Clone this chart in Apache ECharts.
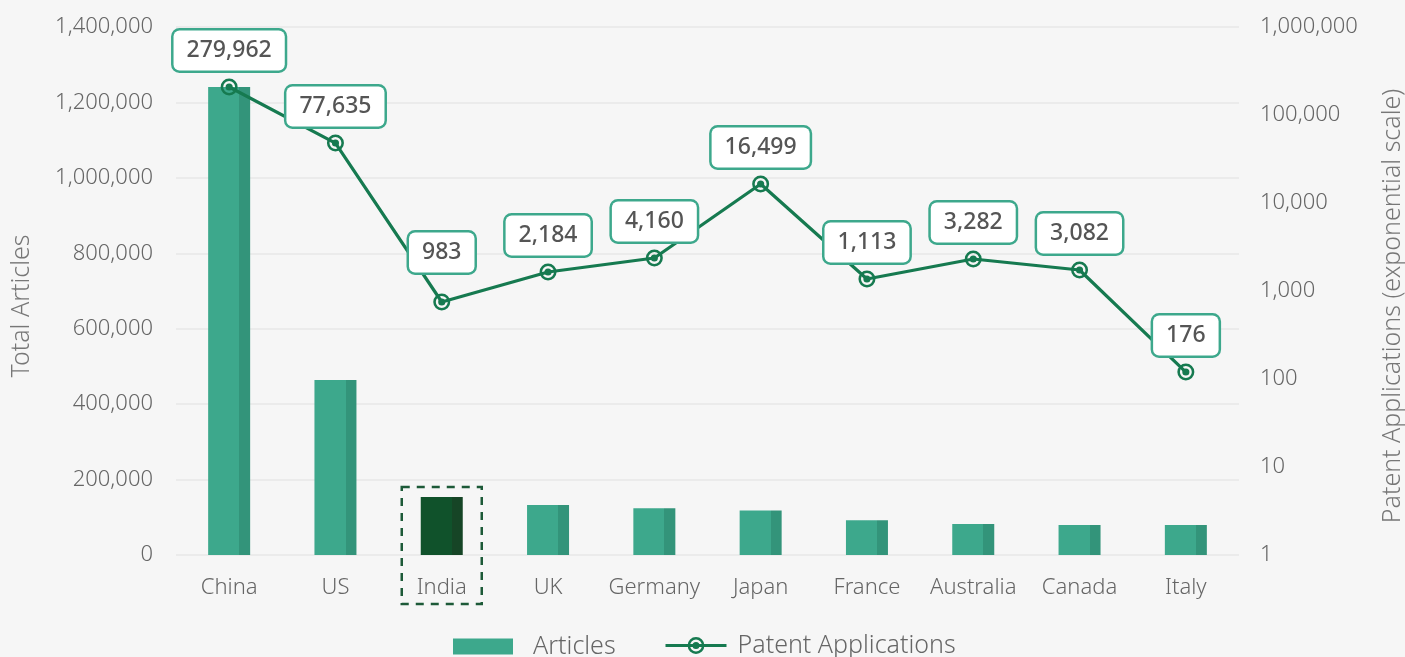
<!DOCTYPE html>
<html>
<head>
<meta charset="utf-8">
<script src="https://cdn.jsdelivr.net/npm/echarts@6/dist/echarts.min.js"></script>
<style>
    html, body { margin: 0; padding: 0; background: #f6f6f6; }
    #chart { width: 1405px; height: 657px; }
</style>
</head>
<body>
<div id="chart"></div>
<script>
    // data
    const countries = ['China', 'US', 'India', 'UK', 'Germany', 'Japan', 'France', 'Australia', 'Canada', 'Italy'];
    const articles = [1241000, 464000, 153800, 132600, 124000, 118000, 92300, 82000, 79600, 79600];
    // where the points sit on the log axis
    const patents = [208000, 48000, 750, 1644, 2371, 16440, 1369, 2310, 1733, 120];
    // the texts written in the boxes
    const patentLabels = ['279,962', '77,635', '983', '2,184', '4,160', '16,499', '1,113', '3,282', '3,082', '176'];
    const leftTicks = [0, 200000, 400000, 600000, 800000, 1000000, 1200000, 1400000];
    const rightTicks = [1, 10, 100, 1000, 10000, 100000, 1000000];
    const highlight = 'India';

    const fmt = v => Number(v).toLocaleString('en-US');
    const ringDot = 'path://M0 -10A10 10 0 1 1 0 10A10 10 0 1 1 0 -10ZM0 -7A7 7 0 1 0 0 7A7 7 0 1 0 0 -7ZM0 -4.2A4.2 4.2 0 1 1 0 4.2A4.2 4.2 0 1 1 0 -4.2Z';

    function barFill(main, side) {
        return new echarts.graphic.LinearGradient(0, 0, 1, 0, [
            {offset: 0, color: main}, {offset: 0.74, color: main},
            {offset: 0.74, color: side}, {offset: 1, color: side}
        ]);
    }

    const chart = echarts.init(document.getElementById('chart'));
    const font = 'Noto Sans';
    const legendText = {fontSize: 25, color: '#666', fontWeight: 300, fontFamily: font};

    chart.setOption({
        backgroundColor: '#f6f6f6',
        textStyle: {fontFamily: font},
        grid: {left: 176, right: 166, top: 27, bottom: 102, outerBoundsMode: 'none'},
        legend: [
            {
                left: 448,
                top: 629,
                itemWidth: 60,
                itemHeight: 16,
                textStyle: Object.assign({padding: [0, 0, 0, 15]}, legendText),
                data: [{name: 'Articles', icon: 'rect', itemStyle: {color: '#3da88c'}}]
            },
            {
                left: 659,
                top: 628,
                itemWidth: 61,
                itemHeight: 21,
                lineStyle: {width: 3},
                textStyle: Object.assign({padding: [0, 0, 0, 6]}, legendText),
                data: [{name: 'Patent Applications'}]
            }
        ],
        xAxis: {
            type: 'category',
            data: countries,
            axisLine: {show: false},
            axisTick: {show: false},
            axisLabel: {color: '#666', fontSize: 22, margin: 22, fontWeight: 300, interval: 0}
        },
        yAxis: [
            {
                type: 'value',
                min: leftTicks[0],
                max: leftTicks[leftTicks.length - 1],
                interval: leftTicks[1] - leftTicks[0],
                name: 'Total Articles',
                nameLocation: 'middle',
                nameRotate: 90,
                nameGap: 142,
                nameTextStyle: {color: '#777', fontSize: 25, fontWeight: 300, padding: [0, 30, 0, 0]},
                axisLabel: {color: '#666', fontSize: 22, margin: 23, fontWeight: 300, formatter: fmt},
                splitLine: {lineStyle: {color: '#ebebeb', width: 2}}
            },
            {
                type: 'log',
                logBase: 10,
                min: rightTicks[0],
                max: rightTicks[rightTicks.length - 1],
                name: 'Patent Applications (exponential scale)',
                nameLocation: 'middle',
                nameRotate: 90,
                nameGap: 141,
                nameTextStyle: {color: '#777', fontSize: 25, fontWeight: 300, padding: [0, 30, 0, 0]},
                axisLabel: {color: '#666', fontSize: 22, margin: 21, fontWeight: 300, formatter: fmt},
                splitLine: {show: false},
                axisLine: {show: false},
                axisTick: {show: false}
            }
        ],
        series: [
            {
                name: 'Articles',
                type: 'bar',
                barWidth: 42,
                data: articles.map((v, i) => ({
                    value: v,
                    itemStyle: {
                        color: countries[i] === highlight
                            ? barFill('#10522b', '#164526')
                            : barFill('#3da88c', '#33947a')
                    }
                }))
            },
            {
                name: 'Patent Applications',
                type: 'line',
                yAxisIndex: 1,
                symbol: ringDot,
                symbolSize: 17,
                itemStyle: {color: '#167a50'},
                lineStyle: {color: '#167a50', width: 3.2},
                z: 3,
                data: patents.map((v, i) => ({
                    value: v,
                    label: countries[i] === highlight ? {offset: [0, -13]} : undefined
                })),
                label: {
                    show: true,
                    position: 'top',
                    distance: 8,
                    formatter: p => patentLabels[p.dataIndex],
                    color: '#555',
                    fontSize: 23,
                    fontWeight: 500,
                    lineHeight: 26,
                    backgroundColor: '#fff',
                    borderColor: '#3da88c',
                    borderWidth: 2.5,
                    borderRadius: 6,
                    padding: [7, 13]
                }
            }
        ]
    });

    // dashed frame round the highlighted bar and its label
    const hi = countries.indexOf(highlight);
    const barTop = chart.convertToPixel({xAxisIndex: 0, yAxisIndex: 0}, [hi, articles[hi]]);
    const barBase = chart.convertToPixel({xAxisIndex: 0, yAxisIndex: 0}, [hi, 0]);
    chart.setOption({
        graphic: [{
            type: 'rect',
            shape: {
                x: barTop[0] - 40,
                y: barTop[1] - 10,
                width: 80,
                height: barBase[1] + 49 - (barTop[1] - 10)
            },
            style: {fill: 'none', stroke: '#1d5a38', lineWidth: 2.5, lineDash: [8, 7]},
            z: 10
        }]
    });
</script>
</body>
</html>
